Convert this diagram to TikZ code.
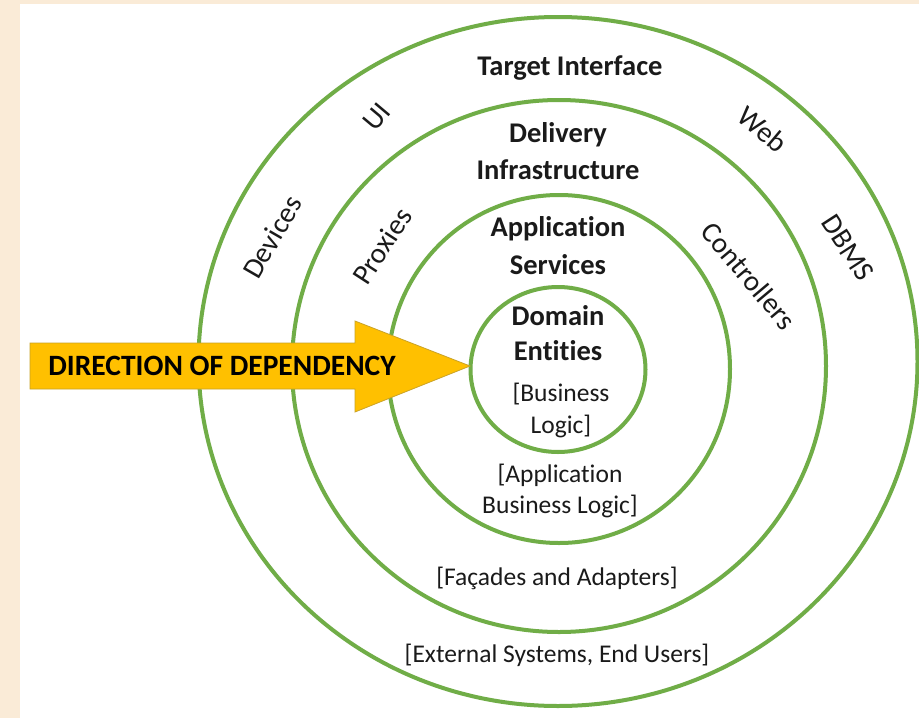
\documentclass[tikz,border=0pt]{standalone}
\usepackage{fontspec}
\setmainfont{Carlito}[Ligatures=NoCommon]
\usetikzlibrary{shapes.geometric}
\definecolor{ringgreen}{HTML}{70AD47}
\definecolor{beige}{HTML}{FAEBD7}
\definecolor{arrowfill}{HTML}{FFC000}
\definecolor{arrowline}{HTML}{C9A227}
\definecolor{txt}{HTML}{1A1A1A}
\tikzset{
  ring/.style={ellipse, draw=ringgreen, line width=4pt, inner sep=0pt},
  title/.style={font=\fontsize{28.5}{32}\selectfont\bfseries, align=center, inner sep=0pt, text=txt},
  plain/.style={font=\fontsize{25.5}{29}\selectfont, align=center, inner sep=0pt, text=txt},
  side/.style={font=\fontsize{29}{32}\selectfont, inner sep=0pt, text=txt},
}
\begin{document}
\begin{tikzpicture}[x=1pt, y=-1pt]
\useasboundingbox (0,0) rectangle (919,718);
\fill[beige] (0,0) rectangle (919,718);
\fill[white] (20,4) rectangle (919,718);
% rings
\node[ring, minimum width=719pt, minimum height=689pt] (outer) at (558,361.5) {};
\node[ring, minimum width=534pt, minimum height=532pt] (delivery) at (559,366) {};
\node[ring, minimum width=342pt, minimum height=348pt] (app) at (559,369) {};
\node[ring, minimum width=175pt, minimum height=165pt] (domain) at (558,369.5) {};
% arrow
\filldraw[fill=arrowfill, draw=arrowline, line width=0.8pt]
  (30,343) -- (355,343) -- (355,321) -- (470,366) -- (355,412) -- (355,389) -- (30,389) -- cycle;
\node[font=\fontsize{29.5}{32}\selectfont\bfseries, inner sep=0pt, text=black] (dir) at (222,366) {DIRECTION OF DEPENDENCY};
% titles
\node[title] (ti) at (570,68) {Target Interface};
\node[title] (di1) at (558,135) {Delivery};
\node[title] (di2) at (558,170) {Infrastructure};
\node[title] (as1) at (558,229) {Application};
\node[title] (as2) at (558,265) {Services};
\node[title] (de1) at (558,316) {Domain};
\node[title] (de2) at (558,351) {Entities};
% bracket notes
\node[plain] (bl1) at (561,394) {[Business};
\node[plain] (bl2) at (561,426) {Logic]};
\node[plain] (abl1) at (560,475) {[Application};
\node[plain] (abl2) at (560,506) {Business Logic]};
\node[plain] (fa) at (557,578) {[Façades and Adapters]};
\node[plain] (es) at (557,655) {[External Systems, End Users]};
% side labels
\node[side, rotate=50] (ui) at (377,117) {UI};
\node[side, rotate=60] (dev) at (272,237) {Devices};
\node[side, rotate=57] (prox) at (382,246) {Proxies};
\node[side, rotate=-40] (web) at (763,129) {Web};
\node[side, rotate=-57] (dbms) at (848,248) {DBMS};
\node[side, rotate=-50] (ctrl) at (749,276) {Controllers};
\end{tikzpicture}
\end{document}
